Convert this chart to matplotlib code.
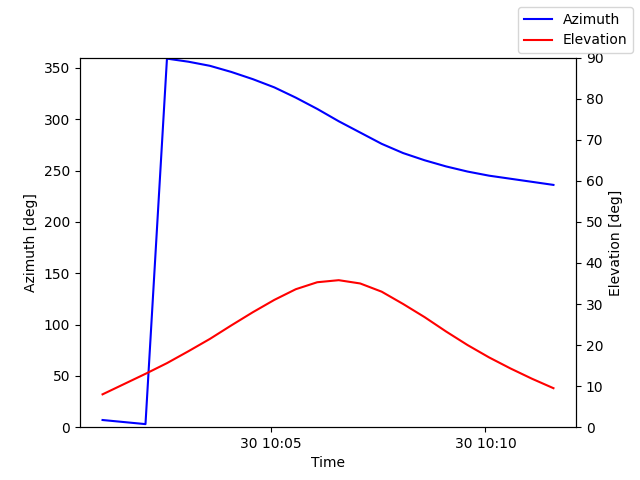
import matplotlib
matplotlib.use('Agg')
import matplotlib.pyplot as plt
import matplotlib.dates as mdates
import numpy as np
import pandas as pd

times = pd.date_range('2024-01-30 10:01:05', periods=22, freq='30s')
azimuth = [7, 5, 3, 359, 356, 352, 346, 339, 331, 321, 310, 298, 287, 276,
           267, 260, 254, 249, 245, 242, 239, 236]
elevation = [8, 10.5, 13, 15.6, 18.5, 21.5, 24.8, 28, 31, 33.6, 35.3, 35.8,
             35, 33, 30, 26.8, 23.3, 20, 17, 14.3, 11.8, 9.5]

fig, ax1 = plt.subplots(figsize=(6.4, 4.8))
ax2 = ax1.twinx()

ax1.plot(times, azimuth, color='blue', label='Azimuth')
ax2.plot(times, elevation, color='red', label='Elevation')

ax1.set_ylim(0, 360)
ax2.set_ylim(0, 90)
ax1.set_xlabel('Time')
ax1.set_ylabel('Azimuth [deg]')
ax2.set_ylabel('Elevation [deg]')

ax1.xaxis.set_major_locator(mdates.MinuteLocator(byminute=range(0, 60, 5)))
ax1.xaxis.set_major_formatter(mdates.DateFormatter('%d %H:%M'))

fig.legend(loc='upper right')
fig.savefig('out.png', dpi=100)
